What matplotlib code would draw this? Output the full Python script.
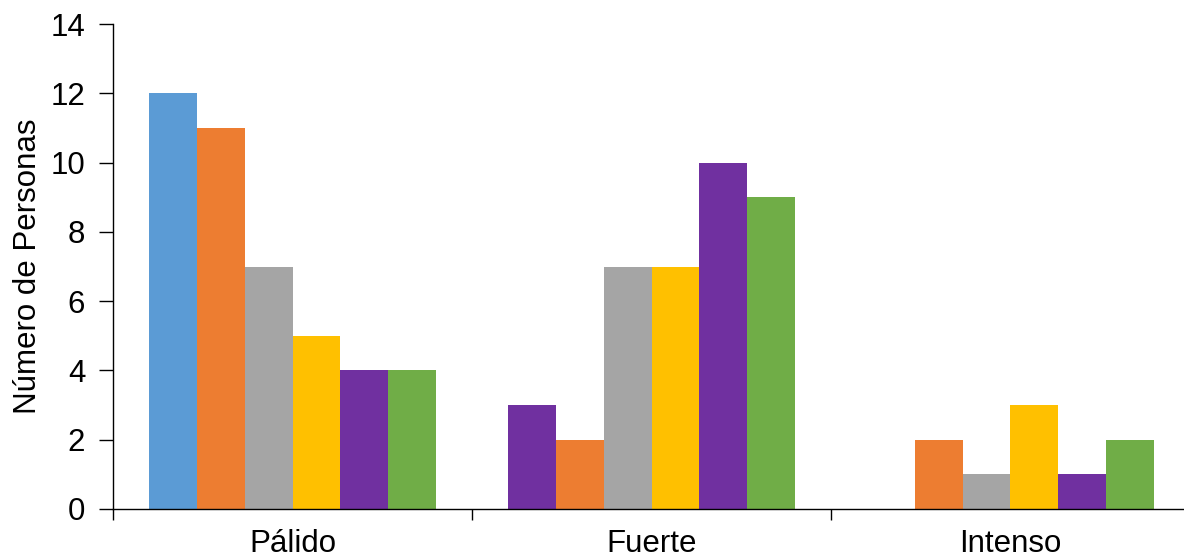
import matplotlib
matplotlib.use("Agg")
import matplotlib.pyplot as plt
import numpy as np

plt.rcParams['font.family'] = ['Liberation Sans', 'DejaVu Sans']

categories = ["Pálido", "Fuerte", "Intenso"]
series_values = [
    [12, 3, 0],
    [11, 2, 2],
    [7, 7, 1],
    [5, 7, 3],
    [4, 10, 1],
    [4, 9, 2],
]
bar_colors = [
    ["#5B9BD5", "#7030A0", "#5B9BD5"],
    ["#ED7D31", "#ED7D31", "#ED7D31"],
    ["#A5A5A5", "#A5A5A5", "#A5A5A5"],
    ["#FFC000", "#FFC000", "#FFC000"],
    ["#7030A0", "#7030A0", "#7030A0"],
    ["#70AD47", "#70AD47", "#70AD47"],
]
y_ticks = [0, 2, 4, 6, 8, 10, 12, 14]

W, H = 1184, 560
fig = plt.figure(figsize=(W / 100, H / 100), dpi=100)
ax = fig.add_axes([113 / W, (H - 509) / H, 1077 / W, 485 / H])

n = len(series_values)
group_w = 0.8
bw = group_w / n
x = np.arange(len(categories))
for i, (vals, cols) in enumerate(zip(series_values, bar_colors)):
    offs = -group_w / 2 + bw * (i + 0.5)
    ax.bar(x + offs, vals, width=bw, color=cols, linewidth=0)

fs = 22.5
ax.set_xlim(-0.5, len(categories) - 0.5)
ax.set_ylim(0, 14)
ax.set_yticks(y_ticks)
ax.set_xticks(x)
ax.set_xticklabels(categories)
ax.set_xticks(np.arange(len(categories)) - 0.5, minor=True)
ax.tick_params(axis='x', which='major', length=0, pad=14.5, labelsize=fs)
ax.tick_params(axis='x', which='minor', length=8, width=1, direction='out')
ax.tick_params(axis='y', length=10, width=1, direction='out', pad=10, labelsize=fs)
ax.set_ylabel("Número de Personas", fontsize=fs, labelpad=5)

for s in ("top", "right"):
    ax.spines[s].set_visible(False)
for s in ("left", "bottom"):
    ax.spines[s].set_linewidth(1)
    ax.spines[s].set_color("black")

fig.savefig("out.png", dpi=100)
